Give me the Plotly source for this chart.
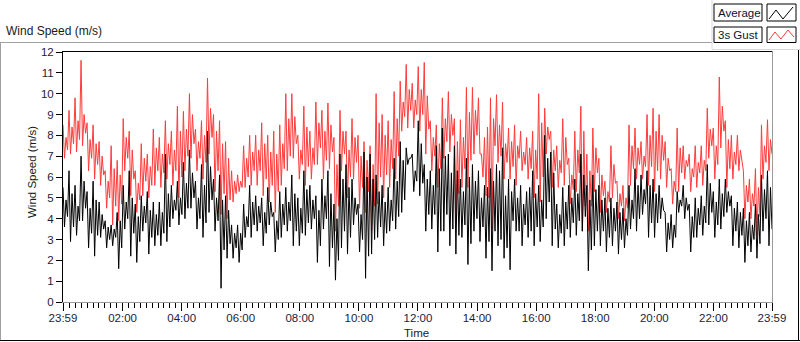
import numpy as np
import plotly.graph_objects as go

# ---------------- data ----------------
# Per ~6-minute block: extreme high / extreme low spikes, and the typical
# upper / lower edge of the dense band, for each series.
gust_hi = [8.5, 9.2, 9.8, 11.6, 8.6, 8.5, 7.7, 6.3, 7.5, 6.8,
           8.8, 8.2, 6.3, 7.6, 7.1, 8.3, 7.9, 8.7, 8.2, 9.4,
           9.15, 10.0, 8.3, 8.7, 10.75, 9.0, 8.7, 7.7, 6.3, 6.1,
           7.5, 8.0, 8.0, 8.6, 8.0, 8.2, 8.5, 10.0, 10.0, 8.0,
           9.4, 8.2, 9.6, 9.2, 9.55, 7.9, 9.2, 8.2, 8.8, 8.0,
           7.7, 7.5, 10.0, 9.0, 8.7, 10.1, 10.6, 11.4, 10.5, 11.3,
           11.5, 8.7, 8.5, 9.8, 10.1, 8.8, 8.75, 10.3, 10.3, 9.8,
           7.9, 9.8, 9.95, 9.6, 8.35, 8.5, 8.2, 7.9, 8.2, 10.0,
           9.3, 8.2, 7.5, 8.8, 6.9, 8.2, 9.4, 7.1, 8.35, 6.9,
           5.8, 7.5, 5.8, 5.6, 8.5, 8.35, 7.7, 9.0, 9.3, 9.0,
           7.7, 6.4, 8.35, 7.5, 7.1, 7.5, 7.5, 9.3, 8.35, 10.8,
           8.7, 8.0, 8.0, 6.3, 5.9, 6.4, 8.5, 8.75]
gust_lo = [6.9, 7.1, 7.2, 7.5, 6.3, 5.9, 5.6, 4.5, 3.7, 3.9,
           6.3, 5.1, 4.3, 5.1, 5.0, 5.6, 5.5, 5.9, 5.6, 5.0,
           6.3, 6.9, 6.3, 5.9, 7.1, 5.3, 4.2, 4.0, 4.8, 5.3,
           5.5, 5.6, 5.6, 5.1, 4.8, 4.3, 5.6, 6.3, 6.9, 5.9,
           5.6, 5.9, 6.6, 5.9, 6.4, 3.4, 6.3, 5.0, 5.9, 4.5,
           4.3, 3.4, 4.7, 5.0, 5.5, 5.9, 8.2, 8.35, 8.35, 8.2,
           7.1, 6.3, 5.5, 6.9, 7.2, 3.7, 5.5, 5.5, 7.1, 7.1,
           5.1, 3.5, 6.7, 5.9, 5.9, 5.6, 6.3, 5.9, 5.0, 4.8,
           7.1, 5.5, 5.5, 5.6, 4.7, 5.3, 3.4, 3.4, 5.3, 4.3,
           4.3, 5.0, 4.0, 3.9, 5.6, 5.9, 5.9, 5.6, 5.3, 5.9,
           5.5, 4.7, 5.3, 5.9, 5.3, 5.5, 5.6, 6.9, 5.9, 7.4,
           5.5, 5.9, 6.3, 4.0, 4.0, 3.2, 5.9, 6.3]
gust_band_hi = [7.9, 8.4, 8.7, 9.0, 7.8, 7.6, 7.0, 5.8, 6.4, 6.1,
                7.9, 7.3, 5.7, 6.9, 6.5, 7.4, 7.1, 7.6, 7.3, 8.2,
                8.3, 9.0, 7.7, 8.0, 9.3, 8.2, 7.6, 6.9, 5.8, 5.8,
                6.9, 7.2, 7.3, 7.6, 7.2, 7.1, 7.6, 8.8, 8.9, 7.3,
                8.4, 7.4, 8.6, 8.2, 8.5, 6.6, 8.2, 7.3, 7.9, 7.0,
                6.8, 6.6, 8.6, 8.0, 7.8, 8.8, 9.6, 10.2, 9.7, 10.2,
                9.9, 7.9, 7.6, 8.8, 9.0, 7.7, 7.9, 9.1, 9.2, 7.1,
                8.4, 8.8, 8.5, 7.6, 7.7, 7.5, 7.2, 7.4, 7.3, 8.6,
                8.4, 7.3, 6.8, 7.9, 6.1, 7.3, 8.2, 6.3, 7.4, 6.1,
                5.3, 6.6, 5.2, 5.0, 7.5, 7.4, 7.0, 8.0, 8.2, 8.0,
                6.9, 5.8, 7.4, 6.8, 6.4, 6.7, 6.8, 8.3, 7.5, 9.4,
                7.8, 7.2, 7.3, 5.6, 5.2, 5.5, 7.5, 7.8]
gust_band_lo = [7.3, 7.6, 7.8, 8.1, 6.9, 6.6, 6.1, 5.0, 4.6, 4.7,
                6.9, 5.9, 4.9, 5.8, 5.6, 6.3, 6.2, 6.6, 6.3, 6.0,
                7.0, 7.6, 6.9, 6.7, 7.9, 6.3, 5.2, 4.9, 5.2, 5.5,
                6.0, 6.3, 6.3, 5.9, 5.6, 5.3, 6.4, 7.0, 7.6, 6.6,
                6.5, 6.6, 7.4, 6.8, 7.2, 4.6, 7.1, 6.0, 6.7, 5.5,
                5.3, 4.6, 6.0, 6.1, 6.4, 7.0, 8.9, 9.2, 9.0, 9.0,
                8.3, 7.0, 6.4, 7.7, 8.0, 5.2, 6.4, 6.8, 8.0, 6.0,
                5.0, 7.5, 7.0, 6.7, 6.5, 6.9, 6.6, 6.4, 5.9, 6.0,
                7.8, 6.3, 6.2, 6.6, 5.4, 6.2, 4.6, 4.6, 6.2, 5.1,
                4.8, 5.7, 4.6, 4.5, 6.4, 6.6, 6.5, 6.5, 6.3, 6.8,
                6.3, 5.3, 6.2, 6.5, 6.0, 6.2, 6.3, 7.5, 6.6, 8.2,
                6.4, 6.6, 6.9, 4.8, 4.6, 4.1, 6.7, 7.1]
avg_hi = [5.5, 6.3, 5.6, 7.0, 5.3, 5.8, 4.8, 3.9, 3.7, 4.3,
          5.6, 6.3, 4.7, 5.1, 5.3, 4.8, 4.8, 7.1, 5.6, 5.8,
          6.7, 7.3, 5.8, 6.6, 8.2, 5.9, 6.1, 5.1, 3.7, 3.7,
          4.7, 5.6, 5.1, 5.0, 5.5, 4.3, 5.3, 5.5, 6.1, 5.0,
          6.3, 5.6, 5.1, 5.9, 6.3, 4.7, 7.1, 6.6, 5.9, 4.7,
          7.2, 7.1, 6.1, 5.6, 5.5, 6.9, 7.7, 7.4, 7.1, 8.7,
          6.6, 6.3, 7.5, 8.35, 7.1, 7.5, 5.9, 6.9, 6.6, 6.3,
          5.6, 6.4, 6.6, 7.4, 5.9, 5.9, 5.6, 5.3, 6.3, 5.6,
          8.0, 7.2, 4.7, 5.5, 5.6, 5.9, 7.1, 5.6, 6.1, 5.6,
          5.0, 5.0, 4.8, 4.5, 5.6, 6.4, 6.1, 6.3, 5.9, 5.6,
          4.3, 4.2, 5.3, 5.6, 4.7, 5.0, 5.1, 6.6, 5.3, 5.9,
          5.9, 5.1, 4.8, 4.5, 4.3, 4.7, 6.1, 6.3]
avg_lo = [3.6, 2.9, 3.2, 3.9, 2.6, 2.2, 3.1, 2.6, 2.7, 1.6,
          3.5, 2.2, 1.9, 3.4, 2.3, 2.7, 2.7, 2.9, 4.0, 3.7,
          4.0, 4.5, 3.5, 3.1, 4.3, 3.4, 0.66, 2.1, 2.1, 1.9,
          3.1, 3.1, 3.4, 2.7, 3.7, 2.4, 3.1, 3.4, 2.7, 2.7,
          3.2, 3.5, 1.9, 3.5, 1.7, 1.05, 2.6, 2.3, 3.7, 2.4,
          1.14, 2.3, 3.1, 2.7, 3.4, 3.5, 4.3, 6.6, 5.3, 5.1,
          3.4, 3.5, 2.4, 3.4, 2.7, 2.3, 3.1, 1.8, 3.4, 2.9,
          2.1, 1.5, 2.7, 2.1, 1.55, 3.4, 2.7, 3.1, 2.7, 2.9,
          4.0, 2.7, 2.6, 2.7, 3.1, 3.2, 3.4, 1.5, 2.7, 2.7,
          2.4, 2.7, 2.3, 2.6, 3.5, 3.4, 4.2, 3.1, 3.1, 4.0,
          2.4, 2.6, 4.3, 4.0, 2.4, 3.1, 3.2, 3.7, 3.1, 3.5,
          4.3, 2.7, 2.6, 1.9, 2.4, 2.1, 3.4, 2.7]
avg_band_hi = [4.9, 5.2, 4.6, 5.8, 4.5, 4.9, 4.2, 3.6, 3.5, 3.9,
               4.8, 5.0, 4.1, 4.6, 4.4, 4.2, 4.3, 5.2, 4.9, 5.0,
               5.7, 6.2, 5.0, 5.6, 6.5, 5.0, 4.9, 4.4, 3.3, 3.3,
               4.1, 4.8, 4.6, 4.3, 4.8, 3.9, 4.7, 4.8, 5.2, 4.5,
               5.4, 4.9, 4.4, 5.1, 5.2, 4.0, 5.9, 5.5, 5.0, 4.2,
               6.0, 5.9, 5.3, 4.8, 4.9, 5.8, 6.8, 6.9, 6.3, 7.6,
               5.9, 5.6, 6.4, 7.0, 6.2, 6.3, 5.3, 6.0, 5.8, 5.0,
               5.5, 5.8, 6.3, 5.1, 5.3, 5.0, 4.7, 5.5, 5.2, 4.9,
               6.9, 6.2, 4.2, 4.8, 5.0, 5.2, 6.1, 4.9, 5.4, 4.9,
               4.5, 4.5, 4.3, 4.0, 4.9, 5.6, 5.4, 5.6, 5.2, 5.0,
               3.8, 3.7, 4.9, 5.0, 4.1, 4.5, 4.6, 5.7, 4.8, 5.2,
               5.3, 4.5, 4.3, 3.9, 3.7, 4.2, 5.4, 5.5]
avg_band_lo = [4.1, 3.6, 3.9, 4.5, 3.3, 3.2, 3.5, 3.0, 3.1, 2.6,
               4.0, 3.3, 2.9, 3.8, 3.1, 3.2, 3.3, 3.6, 4.4, 4.2,
               4.5, 5.0, 4.0, 3.8, 4.9, 3.9, 2.5, 2.8, 2.6, 2.5,
               3.6, 3.7, 3.8, 3.3, 4.1, 3.0, 3.7, 3.9, 3.4, 3.3,
               3.8, 4.0, 2.7, 4.0, 2.6, 2.0, 3.4, 3.1, 4.2, 3.0,
               2.2, 3.0, 3.6, 3.3, 3.9, 4.1, 4.9, 6.9, 5.8, 5.7,
               4.2, 4.2, 3.4, 4.2, 3.5, 3.2, 3.7, 2.8, 4.0, 3.6,
               2.9, 3.4, 3.0, 2.6, 3.9, 3.4, 3.7, 3.4, 3.6, 3.6,
               4.8, 3.5, 3.3, 3.5, 3.8, 3.9, 4.1, 2.5, 3.4, 3.4,
               3.1, 3.4, 3.0, 3.2, 4.0, 4.0, 4.7, 3.8, 3.8, 4.4,
               3.0, 3.1, 4.6, 4.4, 3.1, 3.7, 3.8, 4.3, 3.7, 4.1,
               4.6, 3.4, 3.2, 2.7, 3.0, 2.8, 4.0, 3.5]

# time axis in minutes after 23:59 (24 h span)
tick_minutes = [0, 121, 241, 361, 481, 601, 721, 841, 961, 1081, 1201, 1321, 1440]
tick_labels = ["23:59", "02:00", "04:00", "06:00", "08:00", "10:00", "12:00",
               "14:00", "16:00", "18:00", "20:00", "22:00", "23:59"]
series_names = ["Average", "3s Gust"]

gust = [v for grp in zip(gust_hi, gust_lo, gust_band_hi, gust_band_lo) for v in grp]
avg = [v for grp in zip(avg_hi, avg_lo, avg_band_hi, avg_band_lo) for v in grp]
t = np.linspace(0, 1440, len(gust))

# ---------------- figure ----------------
W, H = 800, 342
L, R, T, B = 63, 28, 52, 40
PW, PH = W - L - R, H - T - B


def px(x):
    return (x - L) / PW


def py(y):
    return (H - B - y) / PH


FONT = "Liberation Sans, Arial, sans-serif"
TICKC = "#1c1c3c"

fig = go.Figure()
fig.add_trace(go.Scatter(x=t, y=gust, mode="lines", name=series_names[1],
                         line=dict(color="#ff3b3b", width=1)))
fig.add_trace(go.Scatter(x=t, y=avg, mode="lines", name=series_names[0],
                         line=dict(color="#000000", width=1)))

shapes = []


def line(x0, y0, x1, y1, color, width=1):
    shapes.append(dict(type="line", xref="paper", yref="paper",
                       x0=px(x0), y0=py(y0), x1=px(x1), y1=py(y1),
                       line=dict(color=color, width=width)))


# outer panel frame
line(0, 42.5, 712, 42.5, "#a0a0a0")
line(0.5, 42.5, 0.5, 341, "#a0a0a0")
line(0, 340.5, 800, 340.5, "#000000")
line(798.5, 50, 798.5, 341, "#000000")
line(712, 0, 712, 49.5, "#d8d8d8")
line(712, 49.5, 800, 49.5, "#d8d8d8")
# plot frame
line(62, 51.5, 772.5, 51.5, "#000000")
line(62.5, 51.5, 62.5, 302.5, "#000000")
line(62, 302.5, 773, 302.5, "#9a9a9a")
line(772.5, 51.5, 772.5, 302.5, "#9a9a9a")

# legend boxes
for (x0, y0, x1, y1) in [(714, 4, 762, 21), (767, 4, 796, 21),
                         (714, 27, 762, 42.5), (767, 27, 796, 42.5)]:
    shapes.append(dict(type="rect", xref="paper", yref="paper",
                       x0=px(x0), y0=py(y1), x1=px(x1), y1=py(y0),
                       fillcolor="white", line=dict(color="#000000", width=1)))


def zig(points, color):
    d = "M " + " L ".join(f"{px(a):.5f},{py(b):.5f}" for a, b in points)
    shapes.append(dict(type="path", xref="paper", yref="paper", path=d,
                       line=dict(color=color, width=1)))


zig([(769, 19), (776, 10), (783, 19), (793, 7)], "#000000")
zig([(769, 40), (775, 32), (781, 39), (788, 30), (794, 37)], "#ff3b3b")

annotations = [
    dict(text="Wind Speed (m/s)", xref="paper", yref="paper", x=px(4), y=py(31),
         xanchor="left", yanchor="middle", showarrow=False,
         font=dict(family=FONT, size=12, color="#1a1a1a")),
    dict(text="Wind Speed (m/s)", xref="paper", yref="paper", x=px(32), y=py(172),
         xanchor="center", yanchor="middle", textangle=-90, showarrow=False,
         font=dict(family=FONT, size=11.5, color="#1a1a1a")),
    dict(text="Time", xref="paper", yref="paper", x=px(416), y=py(333),
         xanchor="center", yanchor="middle", showarrow=False,
         font=dict(family=FONT, size=11.5, color="#1a1a1a")),
    dict(text=series_names[0], xref="paper", yref="paper", x=px(716), y=py(12.5),
         xanchor="left", yanchor="middle", showarrow=False,
         font=dict(family=FONT, size=11.5, color="#101030")),
    dict(text=series_names[1], xref="paper", yref="paper", x=px(716), y=py(35),
         xanchor="left", yanchor="middle", showarrow=False,
         font=dict(family=FONT, size=11.5, color="#101030")),
]

fig.update_layout(
    width=W, height=H,
    margin=dict(l=L, r=R, t=T, b=B, pad=0),
    paper_bgcolor="white", plot_bgcolor="white",
    showlegend=False, hovermode=False,
    shapes=shapes, annotations=annotations,
    xaxis=dict(range=[0, 1440], tickmode="array", tickvals=tick_minutes,
               ticktext=tick_labels, ticks="outside", ticklen=8, tickwidth=1,
               tickcolor="black", showgrid=False, zeroline=False, showline=False,
               ticklabelstandoff=-3,
               tickfont=dict(family=FONT, size=11.5, color=TICKC),
               minor=dict(tickmode="linear", tick0=1, dtick=12, ticks="outside",
                          ticklen=5, tickcolor="black", showgrid=False)),
    yaxis=dict(range=[0, 12], tickmode="linear", tick0=0, dtick=1,
               ticks="outside", ticklen=6, tickwidth=1, tickcolor="black",
               showgrid=False, zeroline=False, showline=False,
               tickfont=dict(family=FONT, size=11.5, color=TICKC)),
)

fig.write_html("out.html",
               config={"displayModeBar": False, "staticPlot": True},
               post_script="document.body.style.margin='0px';"
                           "document.body.style.overflow='hidden';")
